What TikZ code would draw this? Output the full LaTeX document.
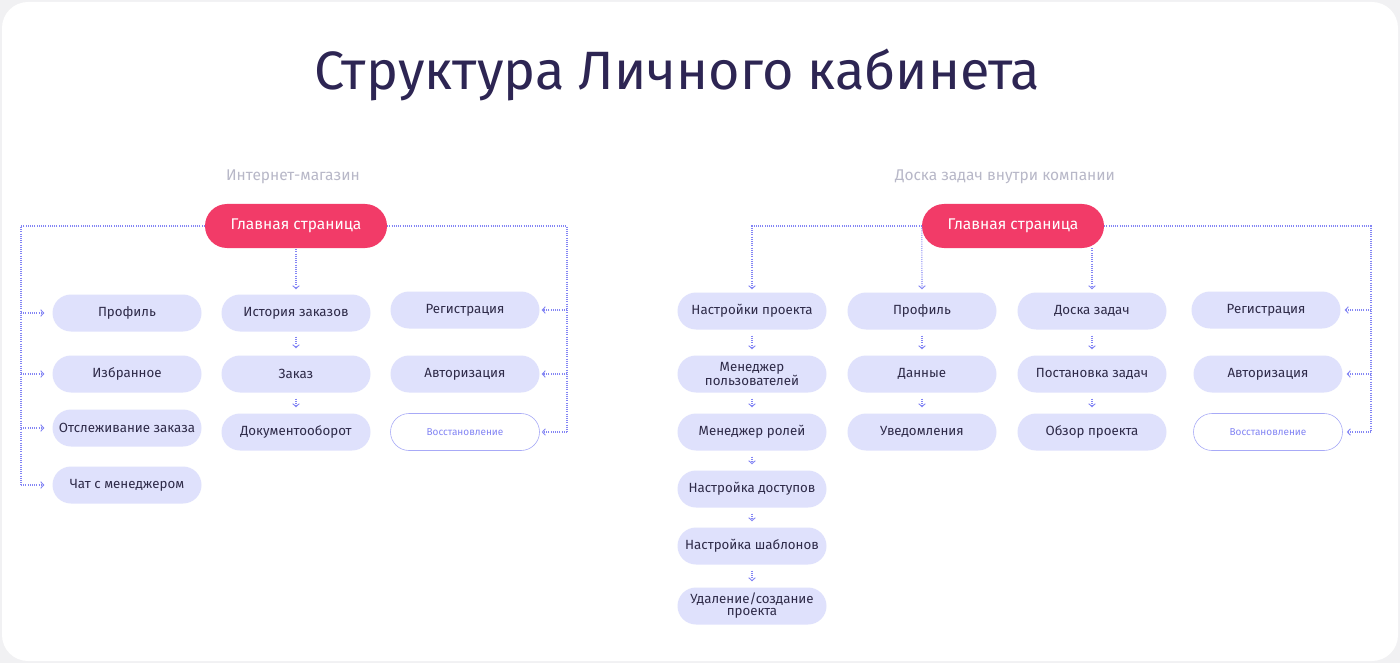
\documentclass[tikz,border=0pt]{standalone}
\usepackage{fontspec}
\setmainfont{Fira Sans}
\usetikzlibrary{arrows.meta}
\definecolor{titlec}{HTML}{2D2553}
\definecolor{subc}{HTML}{B8B8C8}
\definecolor{pinkc}{HTML}{F23B68}
\definecolor{lavc}{HTML}{DFE1FC}
\definecolor{txtc}{HTML}{2E2A48}
\definecolor{linec}{HTML}{8385F4}
\definecolor{bgc}{HTML}{F1F1F3}
\tikzset{
  homebox/.style={draw=none,fill=pinkc,rounded corners=22pt,minimum width=182pt,minimum height=44pt,inner sep=0pt,text=white,font=\fontsize{15.5}{18}\selectfont},
  itembox/.style={draw=none,fill=lavc,rounded corners=18.5pt,minimum width=149pt,minimum height=37pt,inner sep=0pt,text=txtc,align=center,font=\fontsize{13.3}{13}\selectfont},
  outbox/.style={itembox,fill=white,draw=linec!70,line width=0.6pt,text=linec,font=\fontsize{10}{12}\selectfont},
  conn/.style={draw=linec,line width=1.1pt,dash pattern=on 1pt off 1.2pt},
  arr/.style={conn,-{Straight Barb[length=3pt,width=6.5pt,line width=0.9pt]}},
  subt/.style={text=subc,font=\fontsize{15.5}{17}\selectfont},
}
\begin{document}
\begin{tikzpicture}[x=1pt,y=-1pt]
\useasboundingbox (0,0) rectangle (1400,663);
\fill[bgc] (0,0) rectangle (1400,663);
\fill[white,rounded corners=26pt] (2,2) rectangle (1398,661);
\node[text=titlec,font=\fontsize{54}{56}\selectfont] (title) at (677,75) {Структура Личного кабинета};
\node[subt] (s1) at (293,177) {Интернет-магазин};
\node[subt] (s2) at (1005,177) {Доска задач внутри компании};
% left tree
\node[homebox] (lhome) at (296,226) {Главная страница};
\node[itembox] (lprof) at (127,313) {Профиль};
\node[itembox] (lfav) at (127,374) {Избранное};
\node[itembox] (ltrack) at (127,428) {Отслеживание заказа};
\node[itembox] (lchat) at (127,485) {Чат с менеджером};
\node[itembox] (lhist) at (296,313) {История заказов};
\node[itembox] (lord) at (296,374) {Заказ};
\node[itembox] (ldoc) at (296,432) {Документооборот};
\node[itembox] (lreg) at (465,310) {Регистрация};
\node[itembox] (lauth) at (465,374) {Авторизация};
\node[outbox] (lrec) at (465,432) {Восстановление};
\coordinate (lbusL) at (21,485);
\coordinate (lbusR) at (567,432);
\draw[conn] (lhome.west) -| (lbusL);
\foreach \n in {lprof,lfav,ltrack,lchat} \draw[arr,shorten >=8pt] (lbusL |- \n) -- (\n.west);
\draw[conn] (lhome.east) -| (lbusR);
\foreach \n in {lreg,lauth,lrec} \draw[arr,shorten >=2pt] (lbusR |- \n) -- (\n.east);
\draw[arr,shorten <=1pt,shorten >=5pt] (lhome.south) -- (lhist.north);
\draw[arr,shorten <=5pt,shorten >=7pt] (lhist.south) -- (lord.north);
\draw[arr,shorten <=6pt,shorten >=6pt] (lord.south) -- (ldoc.north);
% right tree
\node[homebox] (rhome) at (1013,226) {Главная страница};
\node[itembox] (rset) at (752,311) {Настройки проекта};
\node[itembox] (rusr) at (752,374) {Менеджер\\[-1pt]пользователей};
\node[itembox] (rrol) at (752,432) {Менеджер ролей};
\node[itembox] (racc) at (752,489) {Настройка доступов};
\node[itembox] (rtpl) at (752,546) {Настройка шаблонов};
\node[itembox] (rdel) at (752,606) {Удаление/создание\\[-1pt]проекта};
\node[itembox] (rprof) at (922,311) {Профиль};
\node[itembox] (rdat) at (922,374) {Данные};
\node[itembox] (rnot) at (922,432) {Уведомления};
\node[itembox] (rbrd) at (1092,311) {Доска задач};
\node[itembox] (rtask) at (1092,374) {Постановка задач};
\node[itembox] (rview) at (1092,432) {Обзор проекта};
\node[itembox] (rreg) at (1266,310) {Регистрация};
\node[itembox] (rauth) at (1268,374) {Авторизация};
\node[outbox] (rrec) at (1268,432) {Восстановление};
\coordinate (rbusR) at (1371,432);
\draw[arr,shorten >=3pt] (rhome.west) -| (rset.north);
\draw[arr,shorten >=3pt] (rhome.west) -- (rprof.north);
\draw[arr,shorten <=0pt,shorten >=3pt] (rhome.south -| rbrd) -- (rbrd.north);
\draw[conn] (rhome.east) -| (rbusR);
\foreach \n in {rreg,rauth,rrec} \draw[arr,shorten >=4pt] (rbusR |- \n) -- (\n.east);
\foreach \a/\b in {rset/rusr,rusr/rrol,rrol/racc,racc/rtpl,rtpl/rdel,rprof/rdat,rdat/rnot,rbrd/rtask,rtask/rview}
  \draw[arr,shorten <=6pt,shorten >=6pt] (\a.south) -- (\b.north);
\end{tikzpicture}
\end{document}
